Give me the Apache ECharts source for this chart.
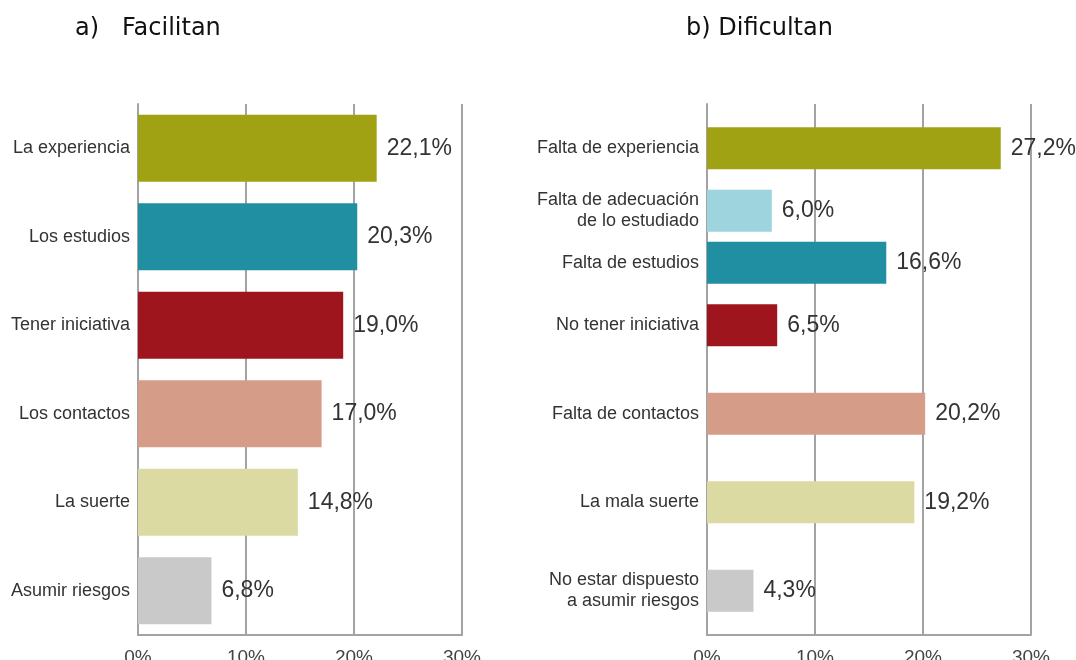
<!DOCTYPE html>
<html>
<head>
<meta charset="utf-8">
<script src="https://cdn.jsdelivr.net/npm/echarts@6/dist/echarts.min.js"></script>
<style>
html,body{margin:0;padding:0;background:#fff;}
#chart{width:1076px;height:660px;}
</style>
</head>
<body>
<div id="chart"></div>
<script>
// ---- data ----
const panelTitles = ['a)   Facilitan', 'b) Dificultan'];
const leftCategories = ['La experiencia', 'Los estudios', 'Tener iniciativa', 'Los contactos', 'La suerte', 'Asumir riesgos'];
const leftValues = [22.1, 20.3, 19.0, 17.0, 14.8, 6.8];
const rightCategories = ['Falta de experiencia', '', 'No tener iniciativa', 'Falta de contactos', 'La mala suerte', 'No estar dispuesto\na asumir riesgos'];
const rightValues = [27.2, null, 6.5, 20.2, 19.2, 4.3];
const splitCategories = ['Falta de adecuación\nde lo estudiado', 'Falta de estudios'];
const splitValues = [6.0, 16.6];
const splitSlot = 1; // category slot shared by the two split bars

// ---- styles ----
const leftColors = ['#A0A213', '#1F8FA1', '#9E151E', '#D59D87', '#DBDAA3', '#C9C9C9'];
const rightColors = ['#A0A213', null, '#9E151E', '#D59D87', '#DBDAA3', '#C9C9C9'];
const splitColors = ['#9DD4DD', '#1F8FA1'];
const gridColor = '#a3a3a3';
const txtFont = '"Liberation Sans", Arial, sans-serif';

function pct(v) { return v.toFixed(1).replace('.', ',') + '%'; }
function slotArray(val) { return leftCategories.map((_, i) => i === splitSlot ? val : null); }

const valueLabel = {
  show: true, position: 'right', distance: 10,
  fontFamily: txtFont, fontSize: 23, color: '#333',
  formatter: p => pct(p.value)
};

function xAxisDef(gi) {
  return {
    gridIndex: gi, type: 'value', min: 0, max: 30, interval: 10,
    axisLine: { show: true, lineStyle: { color: gridColor, width: 2 } },
    axisTick: { show: false },
    splitLine: { show: true, lineStyle: { color: gridColor, width: 2 } },
    axisLabel: { formatter: '{value}%', fontFamily: txtFont, fontSize: 19, color: '#444', margin: 13 }
  };
}
function yAxisDef(gi, cats, show) {
  return {
    gridIndex: gi, type: 'category', data: cats, inverse: true, show: show,
    axisLine: { show: true, lineStyle: { color: gridColor, width: 2 } },
    axisTick: { show: false },
    axisLabel: { fontFamily: txtFont, fontSize: 18, color: '#333', margin: 8, lineHeight: 21 }
  };
}

const titleStyle = { fontFamily: '"DejaVu Sans", Verdana, sans-serif', fontSize: 24, fontWeight: 'normal', color: '#111' };

const chart = echarts.init(document.getElementById('chart'), null, { renderer: 'canvas' });
chart.setOption({
  backgroundColor: '#fff',
  animation: false,
  title: [
    { text: panelTitles[0], left: 70, top: 12, textStyle: titleStyle },
    { text: panelTitles[1], left: 681, top: 12, textStyle: titleStyle }
  ],
  grid: [
    { left: 138, width: 324, top: 104, height: 531, outerBoundsMode: 'none', containLabel: false },
    { left: 707, width: 324, top: 104, height: 531, outerBoundsMode: 'none', containLabel: false }
  ],
  xAxis: [xAxisDef(0), xAxisDef(1)],
  yAxis: [
    yAxisDef(0, leftCategories, true),
    yAxisDef(1, rightCategories, true),
    yAxisDef(1, leftCategories.map((_, i) => 's' + i), false)
  ],
  series: [
    {
      type: 'bar', xAxisIndex: 0, yAxisIndex: 0, barWidth: 67,
      data: leftValues.map((v, i) => ({ value: v, itemStyle: { color: leftColors[i] } })),
      label: valueLabel
    },
    {
      type: 'bar', xAxisIndex: 1, yAxisIndex: 1, barWidth: 42,
      data: rightValues.map((v, i) => ({ value: v, itemStyle: { color: rightColors[i] } })),
      label: valueLabel
    },
    // split slot: name label holders (zero length) + bars, stacked per column
    {
      type: 'bar', xAxisIndex: 1, yAxisIndex: 2, stack: 'a', barWidth: 42,
      data: slotArray(0), itemStyle: { color: 'rgba(0,0,0,0)' },
      label: { show: true, position: 'left', distance: 8, fontFamily: txtFont, fontSize: 18, color: '#333', lineHeight: 21, align: 'right', formatter: () => splitCategories[0] }
    },
    {
      type: 'bar', xAxisIndex: 1, yAxisIndex: 2, stack: 'a', barWidth: 42,
      data: slotArray(splitValues[0]), itemStyle: { color: splitColors[0] },
      label: valueLabel
    },
    {
      type: 'bar', xAxisIndex: 1, yAxisIndex: 2, stack: 'b', barWidth: 42, barGap: '24%',
      data: slotArray(0), itemStyle: { color: 'rgba(0,0,0,0)' },
      label: { show: true, position: 'left', distance: 8, fontFamily: txtFont, fontSize: 18, color: '#333', lineHeight: 21, align: 'right', formatter: () => splitCategories[1] }
    },
    {
      type: 'bar', xAxisIndex: 1, yAxisIndex: 2, stack: 'b', barWidth: 42, barGap: '24%',
      data: slotArray(splitValues[1]), itemStyle: { color: splitColors[1] },
      label: valueLabel
    }
  ]
});
</script>
</body>
</html>
